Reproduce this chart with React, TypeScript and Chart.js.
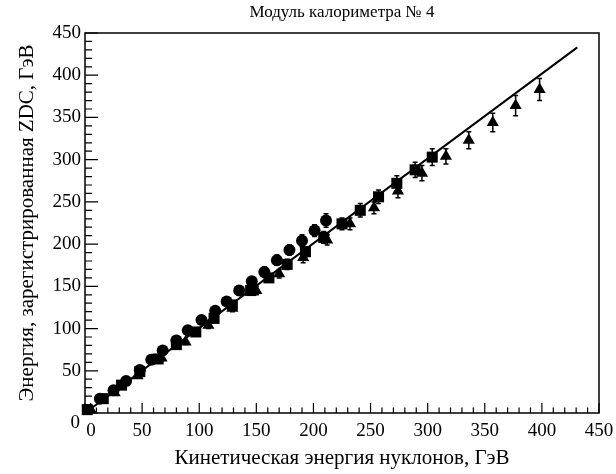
import React, { useEffect, useRef } from 'react';
import { Chart, registerables } from 'chart.js';

Chart.register(...registerables);

const TITLE = 'Модуль калориметра № 4';
const X_TITLE = 'Кинетическая энергия нуклонов, ГэВ';
const Y_TITLE = 'Энергия, зарегистрированная ZDC, ГэВ';

const AXIS_MIN = 0;
const AXIS_MAX = 450;
const MAJOR_STEP = 50;
const MINOR_STEP = 10;

// Series 1: circles
const circleX = [13, 25, 36, 48, 58, 68, 80, 90, 102, 114, 124, 135, 146, 157, 168, 179, 190, 201, 211];
const circleY = [17, 27, 38, 51, 63, 74, 86, 98, 110, 121, 132, 145, 156, 167, 181, 193, 204, 216, 228];
const circleErr = [2, 2, 2, 3, 3, 3, 3, 4, 4, 4, 5, 5, 5, 6, 6, 6, 7, 7, 8];

// Series 2: squares
const squareX = [2, 16, 32, 48, 64, 80, 97, 113, 129, 145, 161, 177, 193, 209, 225, 241, 257, 273, 289, 304];
const squareY = [4, 17, 33, 49, 64, 81, 96, 112, 128, 145, 160, 176, 191, 208, 224, 240, 256, 272, 288, 303];
const squareErr = [1, 2, 2, 2, 3, 3, 4, 4, 5, 5, 5, 6, 6, 7, 7, 8, 8, 9, 9, 10];

// Series 3: triangles
const triX = [5, 26, 46, 67, 88, 108, 129, 150, 170, 191, 212, 232, 253, 274, 295, 316, 336, 357, 377, 398];
const triY = [4, 24, 44, 65, 84, 104, 124, 145, 165, 184, 205, 224, 243, 263, 284, 304, 323, 344, 364, 383];
const triErr = [1, 2, 2, 3, 3, 4, 4, 5, 5, 6, 6, 7, 7, 8, 9, 9, 10, 11, 12, 13];

// Fit line
const fitX = [0, 431];
const fitY = [0, 433];

const FONT = "'Liberation Serif', 'Times New Roman', serif";

const toPts = (xs: number[], ys: number[]) => xs.map((x, i) => ({ x, y: ys[i] }));

const SERIES = [
  { xs: circleX, ys: circleY, es: circleErr },
  { xs: squareX, ys: squareY, es: squareErr },
  { xs: triX, ys: triY, es: triErr },
];

const errorBars = {
  id: 'errorBars',
  beforeDatasetsDraw(chart: any) {
    const { ctx, scales } = chart;
    const x = scales.x;
    const y = scales.y;
    ctx.save();
    ctx.strokeStyle = '#000';
    ctx.lineWidth = 1.5;
    SERIES.forEach((s) => {
      s.xs.forEach((xv, i) => {
        const px = x.getPixelForValue(xv);
        const p1 = y.getPixelForValue(s.ys[i] - s.es[i]);
        const p2 = y.getPixelForValue(s.ys[i] + s.es[i]);
        ctx.beginPath();
        ctx.moveTo(px, p1);
        ctx.lineTo(px, p2);
        ctx.moveTo(px - 2.5, p1);
        ctx.lineTo(px + 2.5, p1);
        ctx.moveTo(px - 2.5, p2);
        ctx.lineTo(px + 2.5, p2);
        ctx.stroke();
      });
    });
    ctx.restore();
  },
};

const frameAndText = {
  id: 'frameAndText',
  afterDraw(chart: any) {
    const { ctx, chartArea, scales } = chart;
    const { left, right, top, bottom } = chartArea;
    const x = scales.x;
    const y = scales.y;
    ctx.save();
    ctx.strokeStyle = '#000';
    ctx.lineWidth = 1.5;
    ctx.strokeRect(left, top, right - left, bottom - top);
    ctx.lineWidth = 1.2;
    ctx.beginPath();
    for (let v = AXIS_MIN; v <= AXIS_MAX; v += MINOR_STEP) {
      const major = v % MAJOR_STEP === 0;
      const px = x.getPixelForValue(v);
      ctx.moveTo(px, bottom);
      ctx.lineTo(px, bottom - (major ? 10 : 5.5));
      const py = y.getPixelForValue(v);
      ctx.moveTo(left, py);
      ctx.lineTo(left + (major ? 13 : 7), py);
    }
    ctx.stroke();

    const cx = (left + right) / 2;
    const cy = (top + bottom) / 2;
    ctx.fillStyle = '#000';
    ctx.textAlign = 'center';
    ctx.textBaseline = 'middle';
    ctx.font = `17px ${FONT}`;
    ctx.fillText(TITLE, cx, 13);
    ctx.font = `21px ${FONT}`;
    ctx.fillText(X_TITLE, cx, 458);
    ctx.save();
    ctx.translate(27, cy);
    ctx.rotate(-Math.PI / 2);
    ctx.fillText(Y_TITLE, 0, 0);
    ctx.restore();
    // zero labels (offset as in the reference)
    ctx.font = `19px ${FONT}`;
    ctx.fillText('0', x.getPixelForValue(0) + 6, 431);
    ctx.textAlign = 'right';
    ctx.fillText('0', left - 5, y.getPixelForValue(0) + 10);
    ctx.restore();
  },
};

const noPad = (s: any) => {
  s.paddingLeft = 0;
  s.paddingRight = 0;
  s.paddingTop = 0;
  s.paddingBottom = 0;
};

export default function App() {
  const ref = useRef<HTMLCanvasElement>(null);
  useEffect(() => {
    const canvas = ref.current;
    if (!canvas) return;
    const chart = new Chart(canvas, {
      type: 'scatter',
      data: {
        datasets: [
          {
            type: 'line',
            data: toPts(fitX, fitY),
            borderColor: '#000',
            borderWidth: 2,
            pointRadius: 0,
            showLine: true,
            fill: false,
          } as any,
          {
            data: toPts(circleX, circleY),
            pointStyle: 'circle',
            pointRadius: 6,
            backgroundColor: '#000',
            borderColor: '#000',
            borderWidth: 0,
            clip: false,
          } as any,
          {
            data: toPts(squareX, squareY),
            pointStyle: 'rect',
            pointRadius: 7.8,
            backgroundColor: '#000',
            borderColor: '#000',
            borderWidth: 0,
            clip: false,
          } as any,
          {
            data: toPts(triX, triY),
            pointStyle: 'triangle',
            pointRadius: 7,
            backgroundColor: '#000',
            borderColor: '#000',
            borderWidth: 0,
            clip: false,
          } as any,
        ],
      },
      options: {
        responsive: false,
        animation: false,
        layout: { padding: { top: 33, right: 17, left: 0, bottom: 0 } },
        plugins: {
          legend: { display: false },
          tooltip: { enabled: false },
          title: { display: false },
        },
        scales: {
          x: {
            type: 'linear',
            min: AXIS_MIN,
            max: AXIS_MAX,
            grid: { display: false, drawTicks: false },
            border: { display: false },
            ticks: {
              stepSize: MAJOR_STEP,
              padding: 7,
              color: '#000',
              font: { family: FONT, size: 19 },
              maxRotation: 0,
              callback: (v: any) => (v === 0 ? '' : String(v)),
            },
            afterFit: (s: any) => {
              s.height = 61;
              noPad(s);
            },
          },
          y: {
            type: 'linear',
            min: AXIS_MIN,
            max: AXIS_MAX,
            grid: { display: false, drawTicks: false },
            border: { display: false },
            ticks: {
              stepSize: MAJOR_STEP,
              padding: 4,
              color: '#000',
              font: { family: FONT, size: 19 },
              callback: (v: any) => (v === 0 ? '' : String(v)),
            },
            afterFit: (s: any) => {
              s.width = 85;
              noPad(s);
            },
          },
        },
      } as any,
      plugins: [errorBars, frameAndText],
    });
    return () => chart.destroy();
  }, []);
  return (
    <div style={{ position: 'absolute', left: 0, top: 0, width: 616, height: 474, background: '#fff' }}>
      <canvas ref={ref} width={616} height={474} style={{ display: 'block' }} />
    </div>
  );
}
